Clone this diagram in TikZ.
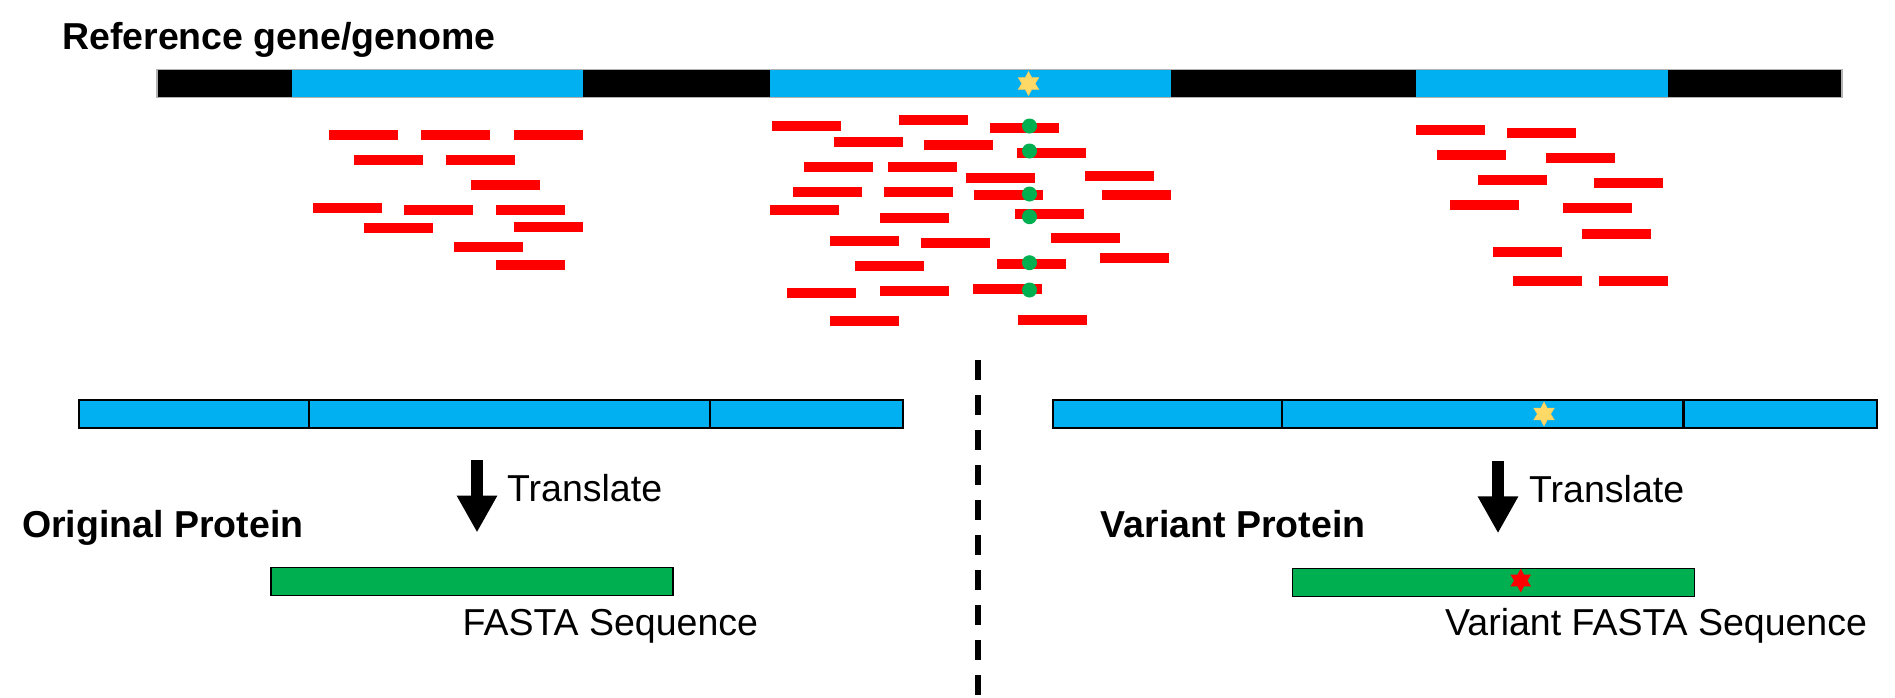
\documentclass[tikz,border=0pt]{standalone}
\usepackage{fontspec}
\setmainfont{Liberation Sans}
\usetikzlibrary{arrows.meta,shapes.geometric}
\usepackage{xcolor}
\definecolor{exonBlue}{HTML}{00B0F0}
\definecolor{readRed}{HTML}{FF0000}
\definecolor{snpGreen}{HTML}{00B050}
\definecolor{starYellow}{HTML}{FFD966}

\begin{document}
\begin{tikzpicture}[x=1pt,y=-1pt,>=Latex]
\tikzstyle{bar}=[inner sep=0,outer sep=0,anchor=north west,minimum height=28pt]
\tikzstyle{exon}=[bar,fill=exonBlue]
\tikzstyle{cds}=[bar,fill=exonBlue,draw=black,line width=2pt]
\tikzstyle{prot}=[bar,fill=snpGreen,draw=black,line width=1.6pt]
\tikzstyle{read}=[fill=readRed,inner sep=0,anchor=north west,minimum width=69pt,minimum height=10pt]
\tikzstyle{snp}=[circle,fill=snpGreen,inner sep=0,minimum size=15pt]
\tikzstyle{mut}=[star,star points=6,star point ratio=1.8,inner sep=0,minimum size=24pt]
\tikzstyle{lbl}=[inner sep=0,anchor=base west,font=\fontsize{37.5}{40}\selectfont]
\tikzstyle{head}=[inner sep=0,anchor=base west,font=\fontsize{37.5}{40}\selectfont\bfseries]
\tikzstyle{translate}=[line width=12pt,-{Triangle[width=38pt,length=37pt]}]
\useasboundingbox (0,0) rectangle (1895,697);

% reference gene with its exons
\node[head] (title) at (62,49.3) {Reference gene/genome};
\node[bar,fill=black,draw=gray!60,line width=1.5pt,minimum width=1685pt] (genome) at (157,69.3) {};
\node[exon,minimum width=291pt,minimum height=27pt] (ex1) at (292,70) {};
\node[exon,minimum width=401pt,minimum height=27pt] (ex2) at (770,70) {};
\node[exon,minimum width=252pt,minimum height=27pt] (ex3) at (1416,70) {};
\node[mut,fill=starYellow,draw=starYellow!85!orange] (var) at (1028.5,83.5) {};

% mapped reads
\foreach \x/\y [count=\i] in {329/129.3,421/129.3,514/129.3,354/154.3,446/154.3,471/179.3,313/202.3,404/204.3,496/204.3,364/222.3,514/221.3,454/241.3,496/259.3}
  \node[read] (rl\i) at (\x,\y) {};
\foreach \x/\y [count=\i] in {772/120.3,899/114.3,990/122.3,834/136.7,924/139.3,1017/147.3,804/161.3,888/161.7,966/172.3,1085/170.3,793/186.3,884/186.3,974/189.3,1102/189.3,770/204.3,880/212.3,1015/208.7,830/235.3,921/237.3,1051/232.3,855/260.3,997/258.3,1100/252.3,787/287.3,880/285.3,973/283.3,830/315.3,1018/314.3}
  \node[read] (rm\i) at (\x,\y) {};
\foreach \x/\y [count=\i] in {1416/124.3,1507/127.3,1437/149.3,1546/152.3,1478/174.3,1594/177.3,1450/199.3,1563/202.3,1582/228.3,1493/246.3,1513/275.3,1599/275.3}
  \node[read] (rr\i) at (\x,\y) {};
\foreach \y [count=\i] in {126,151,194,216.7,262.7,290}
  \node[snp] (d\i) at (1029.5,\y) {};

% divider
\coordinate (cut1) at (978,360);
\coordinate (cut2) at (978,697);
\draw[line width=5.3pt,dash pattern=on 20pt off 15pt] (cut1) -- (cut2);

% original side
\node[cds,minimum width=230pt] (ol1) at (79,400) {};
\node[cds,minimum width=401pt] (ol2) at (309,400) {};
\node[cds,minimum width=193pt] (ol3) at (710,400) {};
\coordinate (ot1) at (477,460);
\coordinate (ot2) at (477,532.5);
\draw[translate] (ot1) -- (ot2);
\node[lbl] (otl) at (507,501.7) {Translate};
\node[head] (otitle) at (22,537.3) {Original Protein};
\node[prot,minimum width=402pt] (oprot) at (271,567.3) {};
\node[lbl] (ofasta) at (462.5,635) {FASTA Sequence};

% variant side
\node[cds,minimum width=230pt] (vl1) at (1052.5,400) {};
\node[cds,minimum width=401pt] (vl2) at (1282,400) {};
\node[cds,minimum width=193pt] (vl3) at (1683.5,400) {};
\node[mut,fill=starYellow,draw=starYellow!85!orange] (vvar) at (1544,414) {};
\coordinate (vt1) at (1498,461);
\coordinate (vt2) at (1498,533.3);
\draw[translate] (vt1) -- (vt2);
\node[lbl] (vtl) at (1529,502.7) {Translate};
\node[head] (vtitle) at (1100.5,537.3) {Variant Protein};
\node[prot,minimum width=402pt] (vprot) at (1292.4,568.3) {};
\node[mut,fill=readRed] (vaa) at (1520.7,580.5) {};
\node[lbl] (vfasta) at (1445,635) {Variant FASTA Sequence};
\end{tikzpicture}
\end{document}
